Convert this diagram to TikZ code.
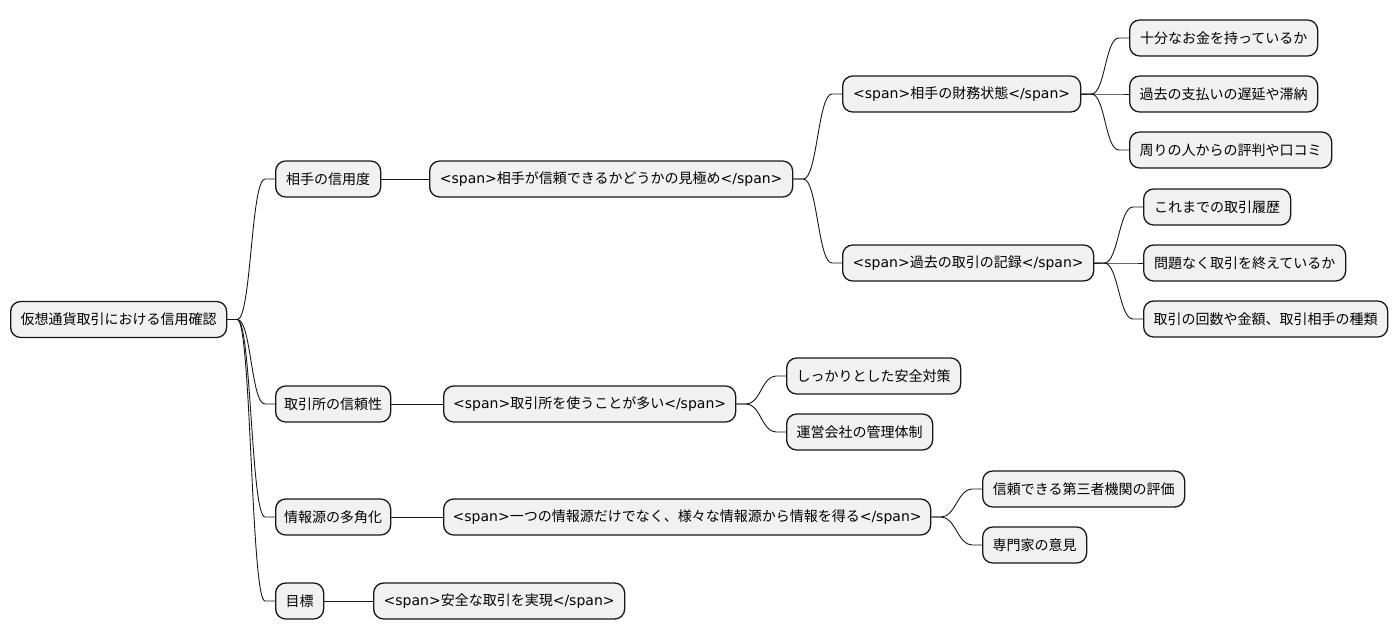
\documentclass[tikz,border=0pt]{standalone}
\usepackage{fontspec}
\setmainfont{DejaVu Sans}
\newfontfamily\cjkfont{Noto Sans CJK JP}
\newfontfamily\latinfont{DejaVu Sans}
\XeTeXinterchartokenstate=1
\newXeTeXintercharclass\cjkcls
\newcount\cjkcc
\cjkcc="3000 \loop \XeTeXcharclass\cjkcc=\cjkcls \advance\cjkcc by 1 \ifnum\cjkcc<"3100 \repeat
\cjkcc="4E00 \loop \XeTeXcharclass\cjkcc=\cjkcls \advance\cjkcc by 1 \ifnum\cjkcc<"A000 \repeat
\cjkcc="FF00 \loop \XeTeXcharclass\cjkcc=\cjkcls \advance\cjkcc by 1 \ifnum\cjkcc<"FFF0 \repeat
\XeTeXinterchartoks 0 \cjkcls = {\cjkfont}
\XeTeXinterchartoks 4095 \cjkcls = {\cjkfont}
\XeTeXinterchartoks \cjkcls 0 = {\latinfont}
\usetikzlibrary{calc}
\definecolor{boxfill}{HTML}{F1F1F1}
\definecolor{boxline}{HTML}{181818}
\tikzset{
  mm/.style={draw=boxline, fill=boxfill, line width=1.3pt, rounded corners=10pt,
    anchor=west, minimum height=36pt, inner sep=0pt, font=\fontsize{14pt}{16pt}\selectfont},
  conn/.style={draw=boxline, line width=0.9pt}
}
\newcommand{\mmlink}[2]{\draw[conn] (#1.east) -- ++(10,0) .. controls +(14,0) and +(-14,0) .. ($(#2.west)+(-10,0)$) -- (#2.west);}
\begin{document}
\begin{tikzpicture}[x=1pt,y=-1pt]
\useasboundingbox (0,0) rectangle (1398,640);
\node[mm, minimum width=216pt] (root) at (10,319.5) {仮想通貨取引における信用確認};
\node[mm, minimum width=105pt] (a) at (275,179) {相手の信用度};
\node[mm, minimum width=363pt] (a1) at (429,179) {<span>相手が信頼できるかどうかの見極め</span>};
\node[mm, minimum width=238pt] (a11) at (842,94) {<span>相手の財務状態</span>};
\node[mm, minimum width=188pt] (a111) at (1129,38) {十分なお金を持っているか};
\node[mm, minimum width=188pt] (a112) at (1129,94) {過去の支払いの遅延や滞納};
\node[mm, minimum width=202pt] (a113) at (1129,150) {周りの人からの評判や口コミ};
\node[mm, minimum width=251pt] (a12) at (842,263) {<span>過去の取引の記録</span>};
\node[mm, minimum width=147pt] (a121) at (1143,207) {これまでの取引履歴};
\node[mm, minimum width=202pt] (a122) at (1143,263) {問題なく取引を終えているか};
\node[mm, minimum width=244pt] (a123) at (1143,319) {取引の回数や金額、取引相手の種類};
\node[mm, minimum width=115pt] (b) at (275,404) {取引所の信頼性};
\node[mm, minimum width=292pt] (b1) at (443,404) {<span>取引所を使うことが多い</span>};
\node[mm, minimum width=174pt] (b11) at (786,376) {しっかりとした安全対策};
\node[mm, minimum width=146pt] (b12) at (786,432) {運営会社の管理体制};
\node[mm, minimum width=115pt] (c) at (275,517) {情報源の多角化};
\node[mm, minimum width=487pt] (c1) at (443,517) {<span>一つの情報源だけでなく、様々な情報源から情報を得る</span>};
\node[mm, minimum width=202pt] (c11) at (982,489) {信頼できる第三者機関の評価};
\node[mm, minimum width=104pt] (c12) at (982,545) {専門家の意見};
\node[mm, minimum width=48pt] (d) at (275,601) {目標};
\node[mm, minimum width=251pt] (d1) at (373,601) {<span>安全な取引を実現</span>};
\mmlink{root}{a}\mmlink{root}{b}\mmlink{root}{c}\mmlink{root}{d}
\draw[conn] (a.east) -- (a1.west);
\draw[conn] (b.east) -- (b1.west);
\draw[conn] (c.east) -- (c1.west);
\draw[conn] (d.east) -- (d1.west);
\mmlink{a1}{a11}\mmlink{a1}{a12}
\mmlink{a11}{a111}\mmlink{a11}{a112}\mmlink{a11}{a113}
\mmlink{a12}{a121}\mmlink{a12}{a122}\mmlink{a12}{a123}
\mmlink{b1}{b11}\mmlink{b1}{b12}
\mmlink{c1}{c11}\mmlink{c1}{c12}
\end{tikzpicture}
\end{document}
